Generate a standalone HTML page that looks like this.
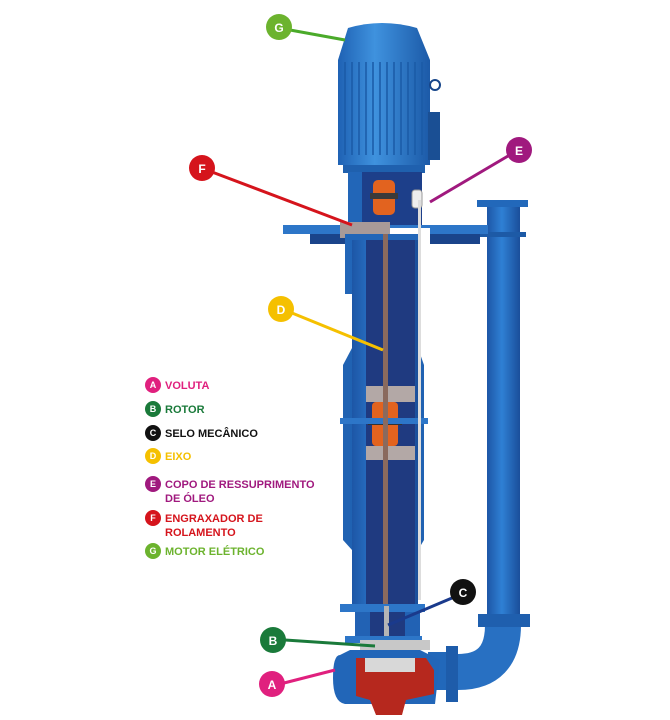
<!DOCTYPE html>
<html><head><meta charset="utf-8"><style>
html,body{margin:0;padding:0;background:#fff;}
svg{display:block}
.l{font-family:"Liberation Sans",sans-serif;font-weight:bold;font-size:11px;}
.c{font-family:"Liberation Sans",sans-serif;font-weight:bold;font-size:12px;fill:#fff;text-anchor:middle}
</style></head><body>
<svg width="670" height="720" viewBox="0 0 670 720" xmlns="http://www.w3.org/2000/svg">
<defs>
<linearGradient id="bl" x1="0" x2="1"><stop offset="0" stop-color="#1d56a6"/><stop offset=".45" stop-color="#2f80d4"/><stop offset="1" stop-color="#1a4e9a"/></linearGradient>
<linearGradient id="mot" x1="0" x2="1"><stop offset="0" stop-color="#1f62b4"/><stop offset=".4" stop-color="#3f92de"/><stop offset="1" stop-color="#1c5aa8"/></linearGradient>
</defs>
<rect x="487" y="204" width="33" height="420" fill="url(#bl)"/>
<rect x="477" y="200" width="51" height="7" fill="#2268ba"/>
<rect x="480" y="232" width="46" height="5" fill="#1d5aa6"/>
<path d="M503 625 Q503 672 458 672" fill="none" stroke="#2870c2" stroke-width="36"/>
<rect x="478" y="614" width="52" height="13" fill="#1f5fae"/>
<rect x="428" y="652" width="22" height="38" fill="#2268ba"/>
<rect x="446" y="646" width="12" height="56" fill="#1e5caa"/>
<path d="M348 28 Q382 18 417 28 L430 60 L430 165 L338 165 L338 60 Z" fill="url(#mot)"/>
<g stroke="#1a5aa6" stroke-width="1.5">
<line x1="345" y1="62" x2="345" y2="155"/><line x1="352" y1="62" x2="352" y2="155"/><line x1="359" y1="62" x2="359" y2="155"/><line x1="366" y1="62" x2="366" y2="155"/><line x1="373" y1="62" x2="373" y2="155"/><line x1="380" y1="62" x2="380" y2="155"/><line x1="387" y1="62" x2="387" y2="155"/><line x1="394" y1="62" x2="394" y2="155"/><line x1="401" y1="62" x2="401" y2="155"/><line x1="408" y1="62" x2="408" y2="155"/><line x1="415" y1="62" x2="415" y2="155"/><line x1="422" y1="62" x2="422" y2="155"/>
</g>
<rect x="428" y="112" width="12" height="48" fill="#1a4f94"/>
<circle cx="435" cy="85" r="5" fill="none" stroke="#17468a" stroke-width="2"/>
<rect x="343" y="165" width="82" height="8" fill="#1f60ae"/>
<rect x="348" y="172" width="72" height="58" fill="#2266b8"/>
<rect x="362" y="172" width="60" height="56" fill="#1d3f8a"/>
<rect x="373" y="180" width="22" height="35" rx="5" fill="#e2631f"/>
<rect x="370" y="193" width="28" height="6" fill="#3a3a3a"/>
<rect x="412" y="190" width="10" height="18" rx="3" fill="#eee" stroke="#999"/>
<rect x="283" y="225" width="205" height="9" fill="#2d76c8"/>
<rect x="310" y="234" width="40" height="10" fill="#1a448a"/>
<rect x="430" y="234" width="50" height="10" fill="#1a448a"/>
<rect x="340" y="222" width="50" height="16" fill="#a89a98"/>
<rect x="390" y="228" width="40" height="12" fill="#fff"/>
<rect x="345" y="234" width="75" height="60" fill="#2266b8"/>
<rect x="352" y="240" width="66" height="370" fill="url(#bl)"/>
<path d="M352 348 L343 365 L343 540 L352 550 Z" fill="#2062b2"/>
<path d="M418 348 L424 365 L424 540 L418 550 Z" fill="#2062b2"/>
<rect x="366" y="240" width="49" height="365" fill="#1f3a80"/>
<rect x="366" y="386" width="49" height="16" fill="#b3a8a6"/>
<rect x="366" y="446" width="49" height="14" fill="#b3a8a6"/>
<rect x="372" y="402" width="26" height="44" rx="4" fill="#e2631f"/>
<rect x="368" y="418" width="34" height="7" fill="#333"/>
<rect x="340" y="418" width="88" height="6" fill="#2d76c8"/>
<rect x="383" y="234" width="5" height="372" fill="#8a6a5e"/>
<rect x="418" y="200" width="3" height="400" fill="#ddd"/>
<rect x="340" y="604" width="85" height="8" fill="#2d76c8"/>
<rect x="355" y="612" width="65" height="30" fill="#2262b4"/>
<rect x="370" y="612" width="35" height="25" fill="#1f3a80"/>
<rect x="384" y="606" width="5" height="30" fill="#b5b5b5"/>
<rect x="345" y="636" width="77" height="7" fill="#2d76c8"/>
<rect x="360" y="640" width="70" height="10" fill="#c8c8c8"/>
<path d="M340 655 Q333 655 333 678 Q333 702 345 704 L435 704 L440 660 L420 650 L350 650 Z" fill="#2266b8"/>
<path d="M356 658 L426 658 L434 670 L434 694 L406 700 L402 715 L376 715 L370 700 L356 696 Z" fill="#b6281e"/>
<rect x="365" y="658" width="50" height="14" fill="#d8d8d8"/>
<g stroke-width="3" fill="none">
<line x1="290" y1="30" x2="345" y2="40" stroke="#4aaa2a"/>
<line x1="212" y1="172" x2="352" y2="225" stroke="#d5141c"/>
<line x1="508" y1="156" x2="430" y2="202" stroke="#a0197e"/>
<line x1="292" y1="313" x2="383" y2="350" stroke="#f5c000"/>
<line x1="452" y1="598" x2="388" y2="625" stroke="#1a3a8c"/>
<line x1="285" y1="640" x2="375" y2="646" stroke="#1a7a3a"/>
<line x1="284" y1="683" x2="335" y2="670" stroke="#e0207e"/>
</g>
<circle cx="279" cy="27" r="13" fill="#6cb32e"/><text class="c" x="279" y="32">G</text>
<circle cx="202" cy="168" r="13" fill="#d5141c"/><text class="c" x="202" y="173">F</text>
<circle cx="519" cy="150" r="13" fill="#a0197e"/><text class="c" x="519" y="155">E</text>
<circle cx="281" cy="309" r="13" fill="#f5c000"/><text class="c" x="281" y="314">D</text>
<circle cx="463" cy="592" r="13" fill="#111"/><text class="c" x="463" y="597">C</text>
<circle cx="273" cy="640" r="13" fill="#1a7a3a"/><text class="c" x="273" y="645">B</text>
<circle cx="272" cy="684" r="13" fill="#e0207e"/><text class="c" x="272" y="689">A</text>
<g>
<circle cx="153" cy="385" r="8" fill="#e0207e"/><text class="c" style="font-size:9px" x="153" y="388">A</text>
<text class="l" x="165" y="389" fill="#e0207e">VOLUTA</text>
<circle cx="153" cy="409" r="8" fill="#1a7a3a"/><text class="c" style="font-size:9px" x="153" y="412">B</text>
<text class="l" x="165" y="413" fill="#1a7a3a">ROTOR</text>
<circle cx="153" cy="433" r="8" fill="#111"/><text class="c" style="font-size:9px" x="153" y="436">C</text>
<text class="l" x="165" y="437" fill="#111">SELO MECÂNICO</text>
<circle cx="153" cy="456" r="8" fill="#f5c000"/><text class="c" style="font-size:9px" x="153" y="459">D</text>
<text class="l" x="165" y="460" fill="#f5c000">EIXO</text>
<circle cx="153" cy="484" r="8" fill="#a0197e"/><text class="c" style="font-size:9px" x="153" y="487">E</text>
<text class="l" x="165" y="488" fill="#a0197e">COPO DE RESSUPRIMENTO</text>
<text class="l" x="165" y="502" fill="#a0197e">DE ÓLEO</text>
<circle cx="153" cy="518" r="8" fill="#d5141c"/><text class="c" style="font-size:9px" x="153" y="521">F</text>
<text class="l" x="165" y="522" fill="#d5141c">ENGRAXADOR DE</text>
<text class="l" x="165" y="536" fill="#d5141c">ROLAMENTO</text>
<circle cx="153" cy="551" r="8" fill="#6cb32e"/><text class="c" style="font-size:9px" x="153" y="554">G</text>
<text class="l" x="165" y="555" fill="#6cb32e">MOTOR ELÉTRICO</text>
</g>
</svg>
</body></html>
